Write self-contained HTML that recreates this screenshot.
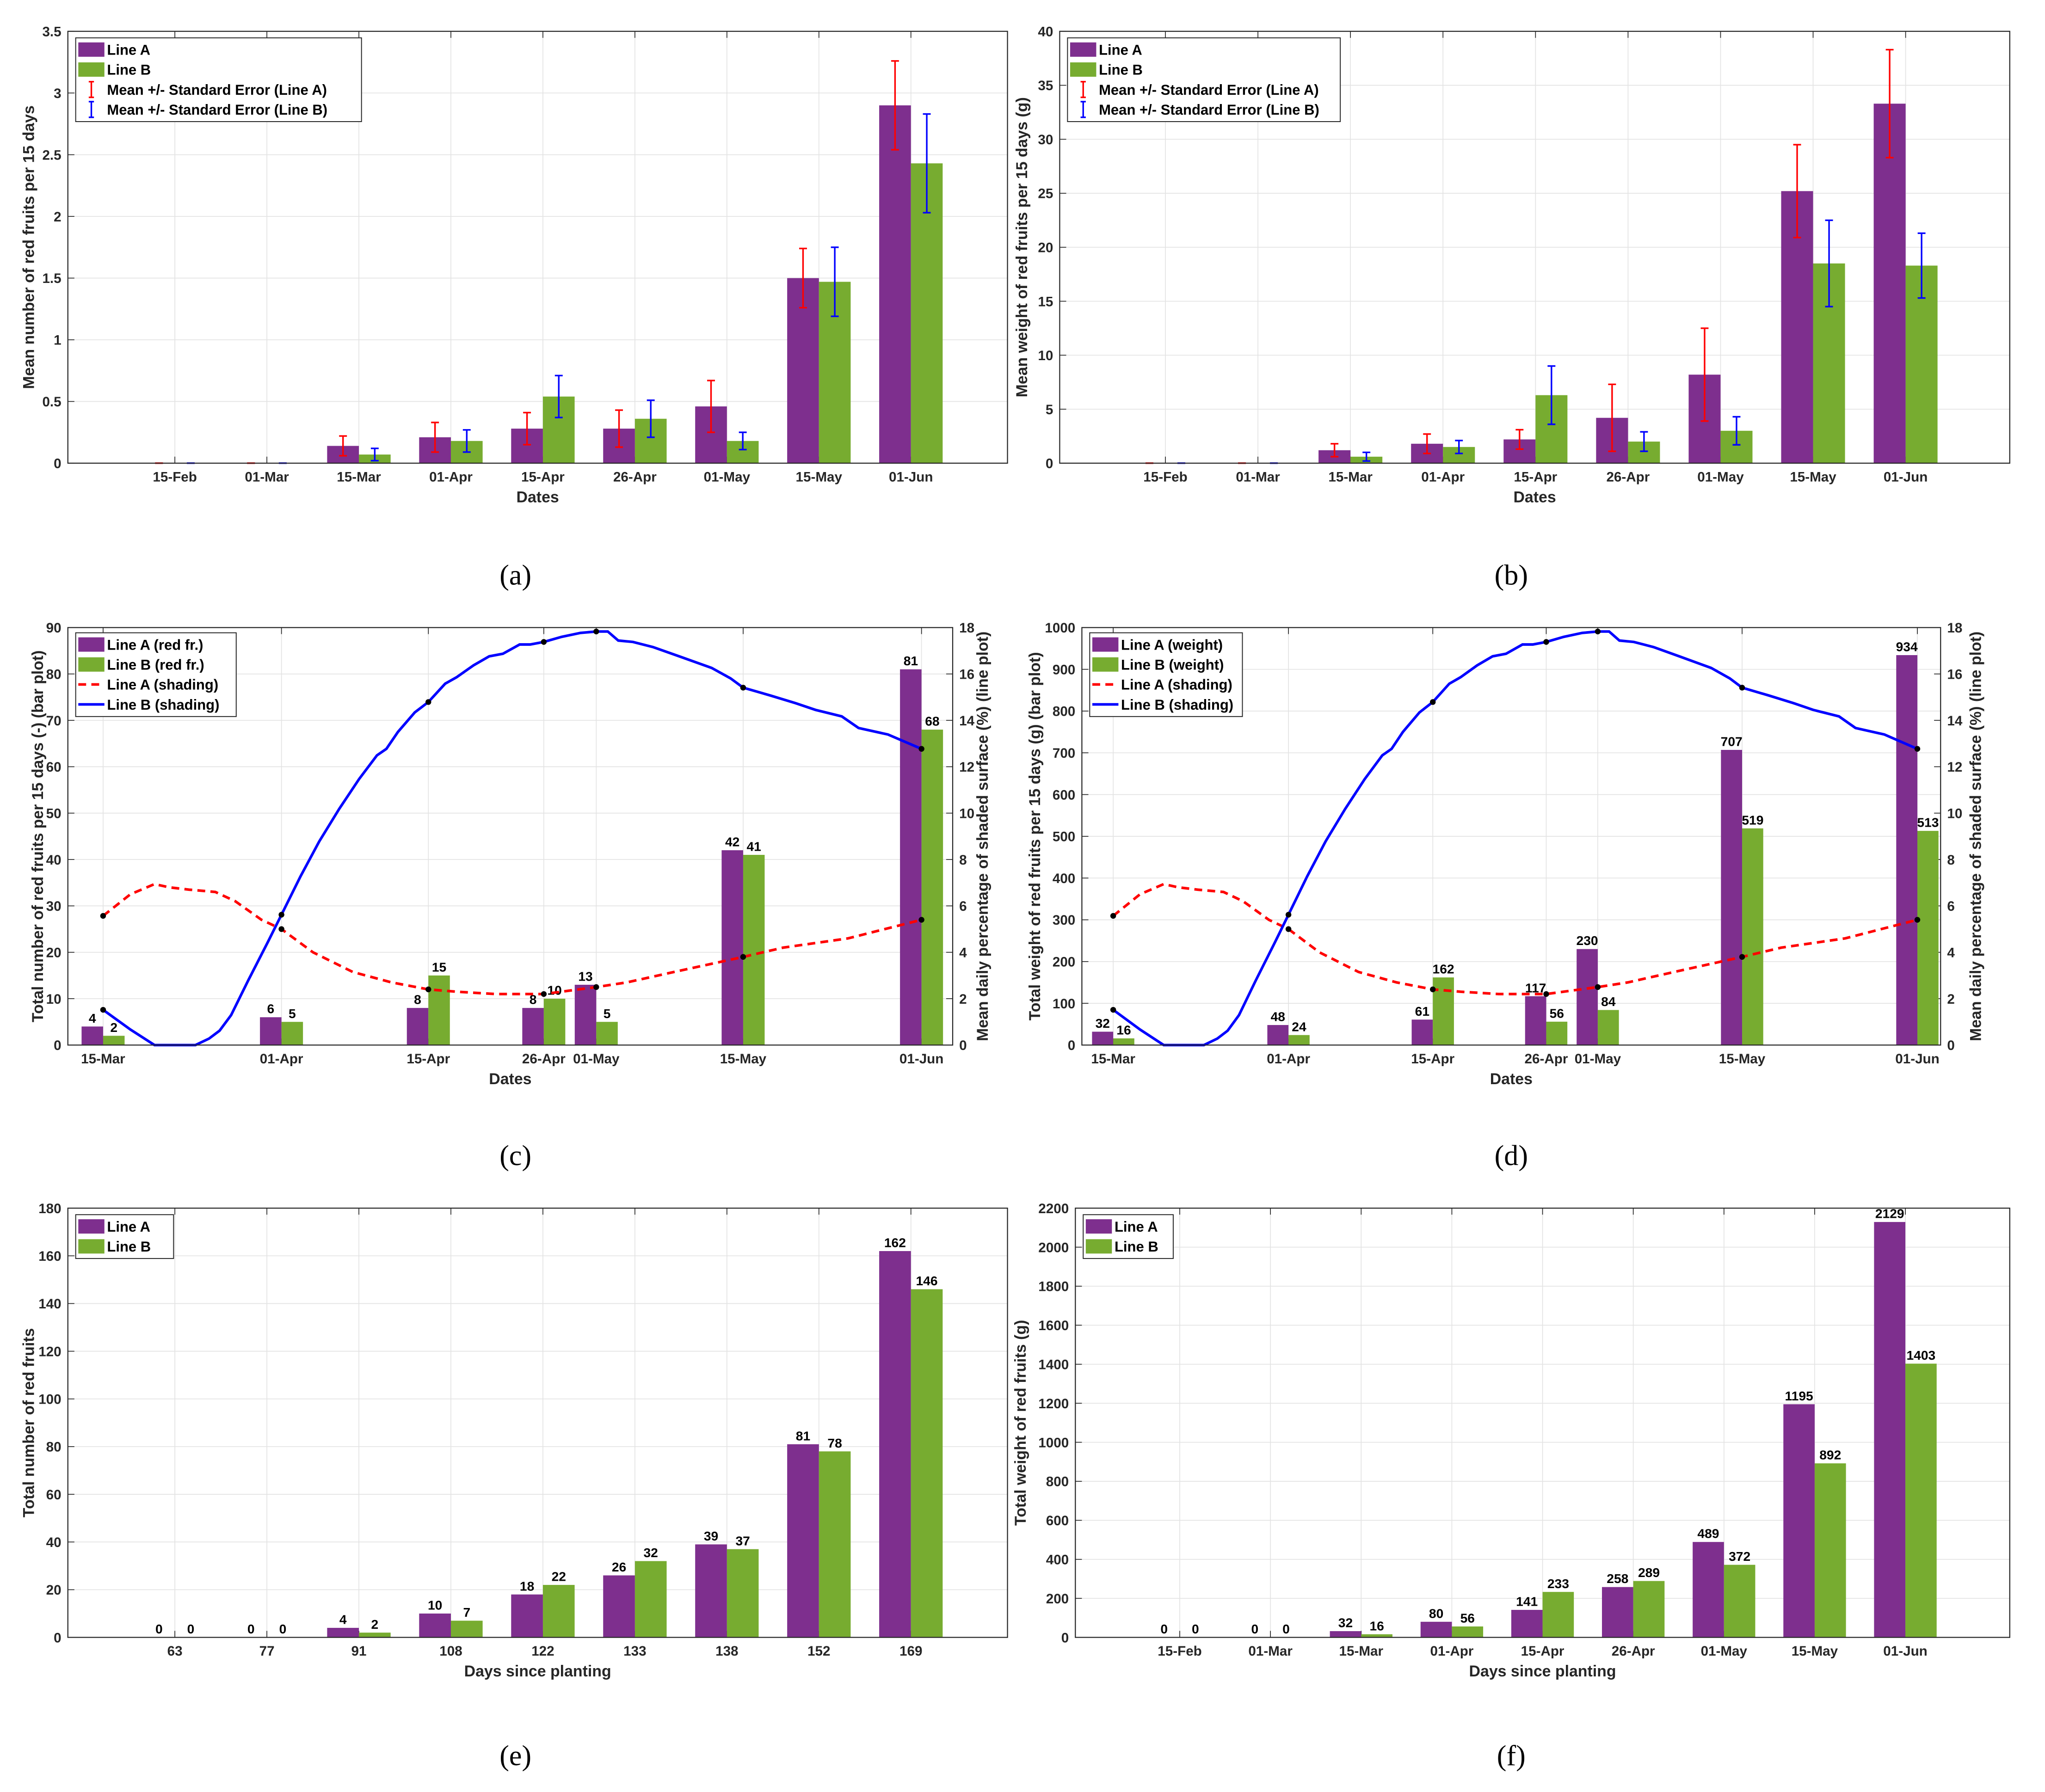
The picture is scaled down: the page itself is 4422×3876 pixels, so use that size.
<!DOCTYPE html>
<html><head><meta charset="utf-8">
<style>
html,body{margin:0;padding:0;background:#fff;}
svg{display:block;}
text{font-family:"Liberation Sans",sans-serif;}
</style></head>
<body>
<svg id="fig" xmlns="http://www.w3.org/2000/svg" width="4422" height="3876" viewBox="0 0 1567 1373.5"></svg>
<script>
// ---- data ----
const datesAll = ["15-Feb","01-Mar","15-Mar","01-Apr","15-Apr","26-Apr","01-May","15-May","01-Jun"];
const aMeanA = [0,0,0.14,0.21,0.28,0.28,0.46,1.5,2.9];
const aMeanB = [0,0,0.07,0.18,0.54,0.36,0.18,1.47,2.43];
const aErrA = [0,0,0.08,0.12,0.13,0.15,0.21,0.24,0.36];
const aErrB = [0,0,0.05,0.09,0.17,0.15,0.07,0.28,0.4];
const aTicks = [0,0.5,1,1.5,2,2.5,3,3.5];
const bMeanA = [0,0,1.2,1.8,2.2,4.2,8.2,25.2,33.3];
const bMeanB = [0,0,0.6,1.5,6.3,2.0,3.0,18.5,18.3];
const bErrA = [0,0,0.6,0.9,0.9,3.1,4.3,4.3,5.0];
const bErrB = [0,0,0.4,0.6,2.7,0.9,1.3,4.0,3.0];
const bTicks = [0,5,10,15,20,25,30,35,40];
const cDates = ["15-Mar","01-Apr","15-Apr","26-Apr","01-May","15-May","01-Jun"];
const cDays = [0,17,31,42,47,61,78];
const cA = [4,6,8,8,13,42,81];
const cB = [2,5,15,10,5,41,68];
const cTicks = [0,10,20,30,40,50,60,70,80,90];
const dA = [32,48,61,117,230,707,934];
const dB = [16,24,162,56,84,519,513];
const dTicks = [0,100,200,300,400,500,600,700,800,900,1000];
const rTicks = [0,2,4,6,8,10,12,14,16,18];
const shBDays = [0,2.6,4.9,8.8,10.1,11.1,12.2,13.8,15.7,17,18.8,20.6,22.5,24.4,26.1,27,28.1,29.7,31,32.6,33.7,35.3,36.8,38.1,39.7,40.7,42,43.7,45.5,47,48.1,49.1,50.5,52.4,54.9,58,59.8,61,63.6,66,67.9,70.4,72,74.8,78];
const shBVals = [1.52,0.67,0,0,0.28,0.62,1.29,2.76,4.44,5.62,7.26,8.78,10.18,11.47,12.49,12.77,13.5,14.34,14.79,15.58,15.86,16.37,16.76,16.87,17.27,17.27,17.38,17.6,17.77,17.83,17.83,17.44,17.38,17.16,16.76,16.26,15.81,15.41,15.07,14.74,14.45,14.17,13.67,13.39,12.77];
const shADays = [0,2.6,4.9,6.3,8.2,10.7,12.6,15.1,17,20,23.8,27.5,31,33.7,37.4,42,47,49.9,54.9,61,64.8,71,78];
const shAVals = [5.57,6.5,6.94,6.8,6.7,6.6,6.2,5.4,5.0,4.0,3.15,2.7,2.4,2.3,2.2,2.2,2.5,2.7,3.2,3.8,4.2,4.6,5.4];
const eDays = ["63","77","91","108","122","133","138","152","169"];
const eA = [0,0,4,10,18,26,39,81,162];
const eB = [0,0,2,7,22,32,37,78,146];
const eTicks = [0,20,40,60,80,100,120,140,160,180];
const fA = [0,0,32,80,141,258,489,1195,2129];
const fB = [0,0,16,56,233,289,372,892,1403];
const fTicks = [0,200,400,600,800,1000,1200,1400,1600,1800,2000,2200];

const PURPLE="#7E2F8E", GREEN="#77AC30", NS="http://www.w3.org/2000/svg";
const fig=document.getElementById('fig');
function el(tag,attrs,parent,txt){const e=document.createElementNS(NS,tag);for(const k in attrs)e.setAttribute(k,attrs[k]);if(txt!==undefined)e.textContent=txt;(parent||fig).appendChild(e);return e;}

function axesFrame(g,L,T,R,B,yTicks,ymin,ymax,xPos,xLabels,xTitle,yTitle,yTitleX,name){
  const ys=v=>B-(v-ymin)/(ymax-ymin)*(B-T);
  yTicks.forEach(v=>{
    const l=el('line',{x1:L,x2:R,y1:ys(v),y2:ys(v),stroke:'#e3e3e3','stroke-width':0.6},g);
    
    
    el('line',{x1:L,x2:L+5,y1:ys(v),y2:ys(v),stroke:'#262626','stroke-width':0.6},g);
    const t=el('text',{x:L-5,y:ys(v)+3.8,'text-anchor':'end','font-size':10.5,'font-weight':'bold',fill:'#262626'},g,String(v));
    
    
  });
  xPos.forEach((x,i)=>{
    const l=el('line',{x1:x,x2:x,y1:T,y2:B,stroke:'#e3e3e3','stroke-width':0.6},g);
    
    
    el('line',{x1:x,x2:x,y1:B,y2:B-5,stroke:'#262626','stroke-width':0.6},g);
    el('line',{x1:x,x2:x,y1:T,y2:T+5,stroke:'#262626','stroke-width':0.6},g);
    const t=el('text',{x:x,y:B+14,'text-anchor':'middle','font-size':10.5,'font-weight':'bold',fill:'#262626'},g,xLabels[i]);
    
    
  });
  const xt=el('text',{x:(L+R)/2,y:B+30,'text-anchor':'middle','font-size':12,'font-weight':'bold',fill:'#262626'},g,xTitle);
  
  
  const yt=el('text',{x:0,y:0,'text-anchor':'middle','font-size':12,'font-weight':'bold',fill:'#262626',transform:`translate(${yTitleX},${(T+B)/2}) rotate(-90)`},g,yTitle);
  
  
  return ys;
}
function box(g,L,T,R,B){
  const r=el('rect',{x:L,y:T,width:R-L,height:B-T,fill:'none',stroke:'#262626','stroke-width':0.8},g);
  
  
}
function legend(g,x,y,w,items){
  const h=items.length*15.3+3;
  const r=el('rect',{x:x,y:y,width:w,height:h,fill:'#fff',stroke:'#262626','stroke-width':0.7},g);
  
  
  items.forEach((it,i)=>{
    const cy=y+9+i*15.3;
    const lg=el('g',{},g);
    
    
    if(it.type==='patch') el('rect',{x:x+2,y:cy-5.5,width:20,height:11,fill:it.color},lg);
    else if(it.type==='err'){el('line',{x1:x+12,x2:x+12,y1:cy-6,y2:cy+6,stroke:it.color,'stroke-width':1.2},lg);el('line',{x1:x+10,x2:x+14,y1:cy-6,y2:cy-6,stroke:it.color,'stroke-width':1.2},lg);el('line',{x1:x+10,x2:x+14,y1:cy+6,y2:cy+6,stroke:it.color,'stroke-width':1.2},lg);}
    else el('line',{x1:x+2,x2:x+22,y1:cy,y2:cy,stroke:it.color,'stroke-width':2,'stroke-dasharray':it.dash||'none'},lg);
    el('text',{x:x+24,y:cy+4,'font-size':11,'font-weight':'bold',fill:'#000'},lg,it.label);
  });
}
function panelLabel(x,y,s){
  const t=el('text',{x:x,y:y,'text-anchor':'middle','font-size':22,fill:'#000',style:'font-family:"Liberation Serif",serif'},fig,'('+s+')');
  
  
}

function catPanel(name,L,T,R,B,first,step,labels,A,Bv,ticks,errA,errB,xTitle,yTitle,yTitleX,showVals,legendW,legendItems){
  const g=el('g',{});
  
  
  const xPos=labels.map((_,i)=>first+i*step);
  const ys=axesFrame(g,L,T,R,B,ticks,ticks[0],ticks[ticks.length-1],xPos,labels,xTitle,yTitle,yTitleX,name);
  const bw=step*0.345;
  xPos.forEach((x,i)=>{
    [[A,PURPLE,-1,errA,'red'],[Bv,GREEN,0,errB,'blue']].forEach(([arr,col,off,err,ec])=>{
      const v=arr[i],x0=x+off*bw;
      const r=el('rect',{x:x0,y:ys(v),width:bw,height:B-ys(v),fill:col},g);
      
      
      if(err){
        const cx=x0+bw/2;
        el('line',{x1:cx,x2:cx,y1:ys(v-err[i]),y2:ys(v+err[i]),stroke:ec,'stroke-width':1.2},g);
        el('line',{x1:cx-3,x2:cx+3,y1:ys(v-err[i]),y2:ys(v-err[i]),stroke:ec,'stroke-width':1.2},g);
        el('line',{x1:cx-3,x2:cx+3,y1:ys(v+err[i]),y2:ys(v+err[i]),stroke:ec,'stroke-width':1.2},g);
      }
      if(showVals){
        const t=el('text',{x:x0+bw/2,y:ys(v)-3,'text-anchor':'middle','font-size':10,'font-weight':'bold',fill:'#000'},g,String(v));
        
        
      }
    });
  });
  box(g,L,T,R,B);
  legend(g,L+6,T+5,legendW,legendItems);
}
const errLeg=[{type:'patch',color:PURPLE,label:'Line A'},{type:'patch',color:GREEN,label:'Line B'},{type:'err',color:'red',label:'Mean +/- Standard Error (Line A)'},{type:'err',color:'blue',label:'Mean +/- Standard Error (Line B)'}];
catPanel('panel-a-chart',52,24,772,355,134,70.5,datesAll,aMeanA,aMeanB,aTicks,aErrA,aErrB,'Dates','Mean number of red fruits per 15 days',26,false,219,errLeg);
catPanel('panel-b-chart',812,24,1540,355,893,70.9,datesAll,bMeanA,bMeanB,bTicks,bErrA,bErrB,'Dates','Mean weight of red fruits per 15 days (g)',787,false,209,errLeg);
const simpleLeg=[{type:'patch',color:PURPLE,label:'Line A'},{type:'patch',color:GREEN,label:'Line B'}];
catPanel('panel-e-chart',52,926,772,1255,134,70.5,eDays,eA,eB,eTicks,null,null,'Days since planting','Total number of red fruits',26,true,75,simpleLeg);
catPanel('panel-f-chart',824,926,1540,1255,904,69.5,datesAll,fA,fB,fTicks,null,null,'Days since planting','Total weight of red fruits (g)',786,true,69,simpleLeg);

function dualPanel(name,L,T,R,B,x0,pxPerDay,A,Bv,ticks,yTitle,yTitleX,rTitleX,legItems,legW){
  const g=el('g',{});
  
  
  const xs=d=>x0+d*pxPerDay;
  const xPos=cDays.map(xs);
  const ys=axesFrame(g,L,T,R,B,ticks,ticks[0],ticks[ticks.length-1],xPos,cDates,'Dates',yTitle,yTitleX,name);
  const yr=v=>B-v/18*(B-T);
  rTicks.forEach(v=>{
    el('line',{x1:R-5,x2:R,y1:yr(v),y2:yr(v),stroke:'#262626','stroke-width':0.6},g);
    const t=el('text',{x:R+5,y:yr(v)+3.8,'font-size':10.5,'font-weight':'bold',fill:'#262626'},g,String(v));
    
    
  });
  const rt=el('text',{x:0,y:0,'text-anchor':'middle','font-size':12,'font-weight':'bold',fill:'#262626',transform:`translate(${rTitleX},${(T+B)/2}) rotate(-90)`},g,'Mean daily percentage of shaded surface (%) (line plot)');
  
  
  const bw=2.05*pxPerDay;
  xPos.forEach((x,i)=>{
    [[A,PURPLE,-1],[Bv,GREEN,0]].forEach(([arr,col,off])=>{
      const v=arr[i],xb=x+off*bw;
      const r=el('rect',{x:xb,y:ys(v),width:bw,height:B-ys(v),fill:col},g);
      
      
      const t=el('text',{x:xb+bw/2,y:ys(v)-3,'text-anchor':'middle','font-size':10,'font-weight':'bold',fill:'#000'},g,String(v));
      
      
    });
  });
  const pA=el('polyline',{points:shADays.map((d,i)=>xs(d)+','+yr(shAVals[i])).join(' '),fill:'none',stroke:'red','stroke-width':2,'stroke-dasharray':'6,4'},g);
  
  
  const pB=el('polyline',{points:shBDays.map((d,i)=>xs(d)+','+yr(shBVals[i])).join(' '),fill:'none',stroke:'blue','stroke-width':2},g);
  
  
  const interp=(ds,vs,d)=>{for(let i=1;i<ds.length;i++){if(d<=ds[i]){const t=(d-ds[i-1])/(ds[i]-ds[i-1]);return vs[i-1]+t*(vs[i]-vs[i-1]);}}return vs[vs.length-1];};
  cDays.forEach(d=>{
    [[shADays,shAVals],[shBDays,shBVals]].forEach(([ds,vs])=>{
      const c=el('circle',{cx:xs(d),cy:yr(interp(ds,vs,d)),r:2.2,fill:'#000'},g);
      
      
    });
  });
  box(g,L,T,R,B);
  legend(g,L+6,T+4,legW,legItems);
}
dualPanel('panel-c-chart',52,481,730,801,79,8.04,cA,cB,cTicks,'Total number of red fruits per 15 days (-) (bar plot)',33,757,
 [{type:'patch',color:PURPLE,label:'Line A (red fr.)'},{type:'patch',color:GREEN,label:'Line B (red fr.)'},{type:'line',color:'red',dash:'6,4',label:'Line A (shading)'},{type:'line',color:'blue',label:'Line B (shading)'}],123);
dualPanel('panel-d-chart',829,481,1487,801,853,7.9,dA,dB,dTicks,'Total weight of red fruits per 15 days (g) (bar plot)',797,1518,
 [{type:'patch',color:PURPLE,label:'Line A (weight)'},{type:'patch',color:GREEN,label:'Line B (weight)'},{type:'line',color:'red',dash:'6,4',label:'Line A (shading)'},{type:'line',color:'blue',label:'Line B (shading)'}],117);

panelLabel(395,448,'a');panelLabel(1158,448,'b');
panelLabel(395,893,'c');panelLabel(1158,893,'d');
panelLabel(395,1353,'e');panelLabel(1158,1353,'f');
</script>
</body></html>
